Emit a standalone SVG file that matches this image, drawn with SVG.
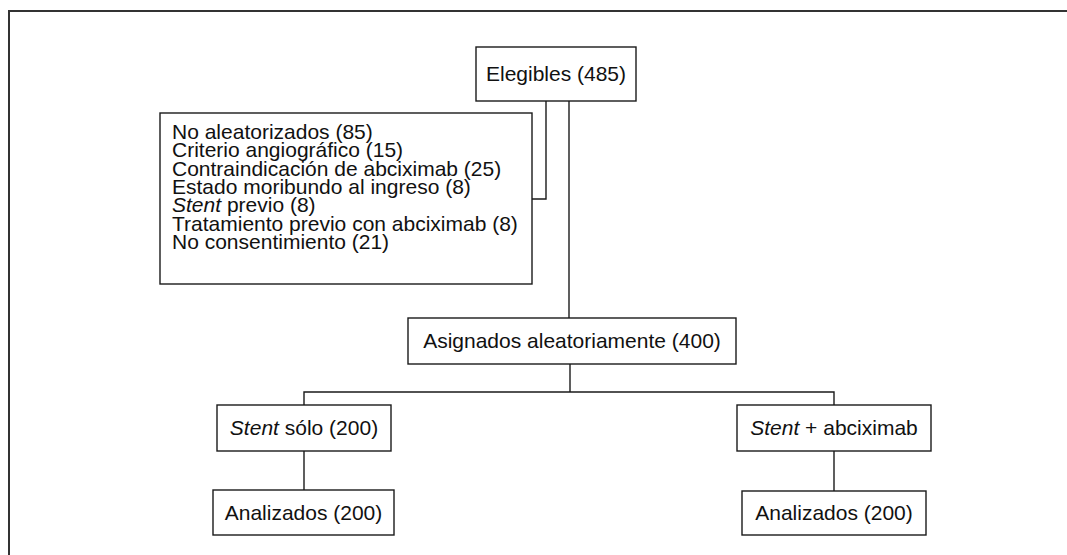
<svg xmlns="http://www.w3.org/2000/svg" width="1067" height="555" viewBox="0 0 1067 555">
<style>
.box{fill:#fff;stroke:#1a1a1a;stroke-width:1.4}
.t{font-family:"Liberation Sans",Arial,sans-serif;font-size:21px;fill:#111}
.c{text-anchor:middle}
.i{font-style:italic}
.conn{fill:none;stroke:#1a1a1a;stroke-width:1.4}
.frame{fill:none;stroke:#333;stroke-width:2}
</style>
<rect width="1067" height="555" fill="#fff"/>
<path class="frame" d="M9,555 V11 H1067"/>
<g id="connectors">
<path class="conn" d="M546,101 V199 H532"/>
<path class="conn" d="M569,101 V318"/>
<path class="conn" d="M570,364 V392"/>
<path class="conn" d="M304,405 V392 H834 V405"/>
<path class="conn" d="M304,451 V490"/>
<path class="conn" d="M834,451 V491"/>
</g>
<g id="n-elegibles">
<rect class="box" x="476" y="47" width="160" height="54"/>
<text class="t c" x="556" y="81">Elegibles (485)</text>
</g>
<g id="n-excluidos">
<rect class="box" x="160" y="113" width="372" height="171"/>
<text class="t" x="172" y="139">No aleatorizados (85)<tspan x="172" dy="18.33">Criterio angiográfico (15)</tspan><tspan x="172" dy="18.33">Contraindicación de abciximab (25)</tspan><tspan x="172" dy="18.33">Estado moribundo al ingreso (8)</tspan><tspan x="172" dy="18.33"><tspan class="i">Stent</tspan> previo (8)</tspan><tspan x="172" dy="18.33">Tratamiento previo con abciximab (8)</tspan><tspan x="172" dy="18.33">No consentimiento (21)</tspan></text>
</g>
<g id="n-asignados">
<rect class="box" x="408" y="318" width="328" height="46"/>
<text class="t c" x="572" y="348">Asignados aleatoriamente (400)</text>
</g>
<g id="n-stent">
<rect class="box" x="217" y="405" width="174" height="46"/>
<text class="t c" x="304" y="435"><tspan class="i">Stent</tspan> sólo (200)</text>
</g>
<g id="n-stent-abc">
<rect class="box" x="737" y="405" width="194" height="46"/>
<text class="t c" x="834" y="435"><tspan class="i">Stent</tspan> + abciximab</text>
</g>
<g id="n-analizados-1">
<rect class="box" x="213" y="490" width="181" height="45"/>
<text class="t c" x="303.5" y="520">Analizados (200)</text>
</g>
<g id="n-analizados-2">
<rect class="box" x="742" y="491" width="184" height="44"/>
<text class="t c" x="834" y="520">Analizados (200)</text>
</g>
</svg>
